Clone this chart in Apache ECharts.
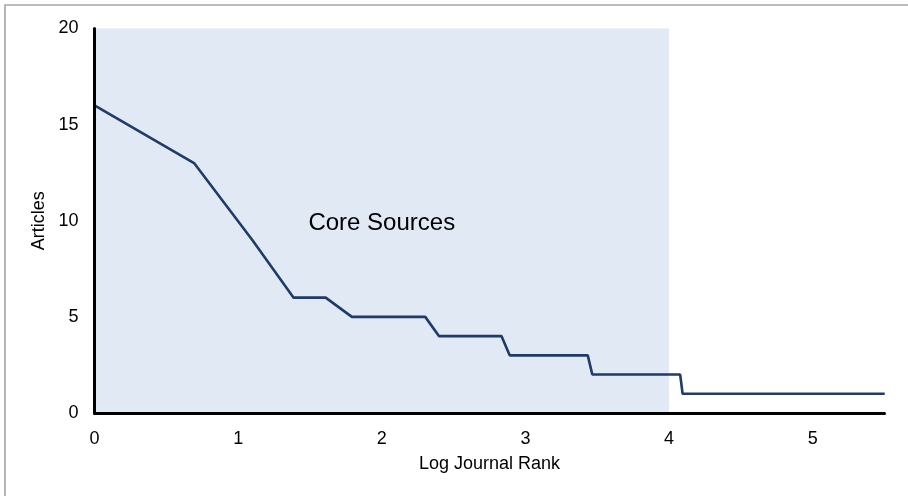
<!DOCTYPE html>
<html>
<head>
<meta charset="utf-8">
<script src="https://cdn.jsdelivr.net/npm/echarts@6/dist/echarts.min.js"></script>
<style>
html,body{margin:0;padding:0;background:#fff;}
#chart{width:908px;height:496px;}
</style>
</head>
<body>
<div id="chart"></div>
<script>
// Journal rank (1 = most productive) at each break of the curve, and articles per journal
var journalRanks = [1, 2, 3, 4, 5, 6, 10, 11, 17, 18, 31, 32, 59, 60, 245];
var articles     = [16, 13, 9, 6, 6, 5, 5, 4, 4, 3, 3, 2, 2, 1, 1];
var coreZone = [0, 4];          // log rank range of the core sources
var coreLabel = 'Core Sources';
var xTicks = [0, 1, 2, 3, 4, 5];
var yTicks = [0, 5, 10, 15, 20];

var FONT = '"Liberation Sans", Arial, Helvetica, sans-serif';
var lineData = journalRanks.map(function (r, i) { return [Math.log(r), articles[i]]; });

var chart = echarts.init(document.getElementById('chart'), null, {renderer: 'canvas'});
chart.setOption({
  animation: false,
  backgroundColor: '#ffffff',
  textStyle: {fontFamily: FONT},
  grid: {left: 94.5, right: 23.5, top: 28.5, bottom: 83, containLabel: false},
  xAxis: {
    type: 'value',
    z: 10,
    min: 0, max: 5.5, interval: 1,
    name: 'Log Journal Rank',
    nameLocation: 'middle',
    nameGap: 42,
    nameTextStyle: {fontSize: 18, color: '#000', fontFamily: FONT},
    axisLine: {show: true, onZero: false, lineStyle: {color: '#000', width: 3}},
    axisTick: {show: false},
    splitLine: {show: false},
    axisLabel: {
      fontSize: 18, color: '#000', margin: 17, fontFamily: FONT,
      formatter: function (v) { return xTicks.indexOf(v) >= 0 ? String(v) : ''; }
    }
  },
  yAxis: {
    type: 'value',
    z: 10,
    min: 0, max: 20, interval: 5,
    name: 'Articles',
    nameLocation: 'middle',
    nameGap: 41,
    nameTextStyle: {fontSize: 18, color: '#000', fontFamily: FONT},
    axisLine: {show: true, onZero: false, lineStyle: {color: '#000', width: 3}},
    axisTick: {show: false},
    splitLine: {show: false},
    axisLabel: {
      fontSize: 18, color: '#000', margin: 16, fontFamily: FONT,
      formatter: function (v) { return yTicks.indexOf(v) >= 0 ? String(v) : ''; }
    }
  },
  series: [{
    type: 'line',
    data: lineData,
    showSymbol: false,
    symbol: 'none',
    lineStyle: {color: '#1f3b68', width: 2.6},
    z: 3,
    markArea: {
      silent: true,
      itemStyle: {color: '#e1e9f5'},
      label: {
        show: true, position: 'inside', color: '#000',
        fontSize: 24, fontFamily: FONT, offset: [0, 3]
      },
      data: [[{xAxis: coreZone[0], yAxis: yTicks[0], name: coreLabel}, {xAxis: coreZone[1], yAxis: yTicks[yTicks.length - 1]}]]
    }
  }],
  graphic: [{
    type: 'rect',
    shape: {x: 5, y: 5, width: 1200, height: 1200},
    style: {fill: 'none', stroke: '#a6a6a6', lineWidth: 1.6},
    silent: true
  }]
});
</script>
</body>
</html>
